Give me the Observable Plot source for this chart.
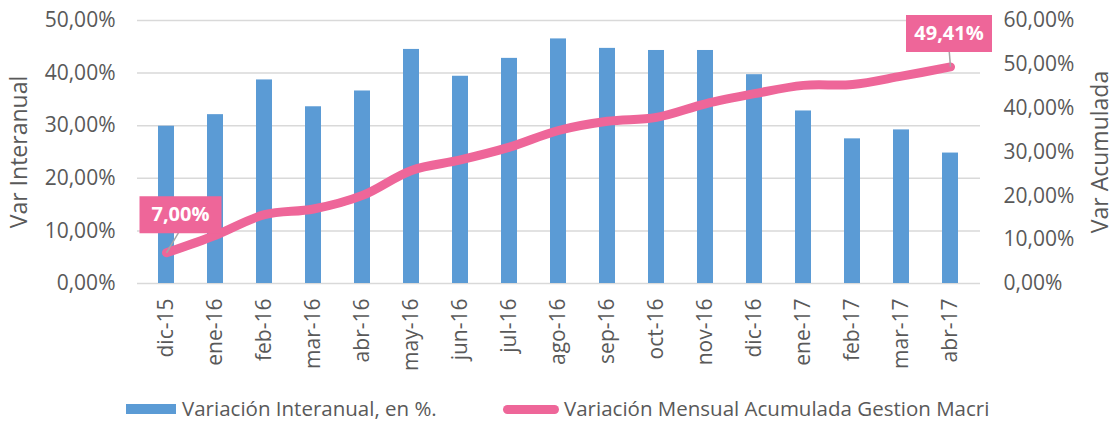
<!DOCTYPE html>
<html><head><meta charset="utf-8">
<script src="https://cdn.jsdelivr.net/npm/d3@7"></script>
<script src="https://cdn.jsdelivr.net/npm/@observablehq/plot@0.6"></script>
<style>
body{margin:0;background:#fff;font-family:"Open Sans",Lato,sans-serif;}
#wrap{position:relative;width:1114px;height:423px;}
#legend{position:absolute;top:394px;left:0;width:1114px;height:28px;font-size:20.5px;color:#595959;}
.item{position:absolute;top:0;height:28px;line-height:28px;white-space:nowrap;}
.sw{position:absolute;}
</style></head><body><div id="wrap"><div id="chart"></div><div id="legend"></div></div>
<script>
const months = ["dic-15","ene-16","feb-16","mar-16","abr-16","may-16","jun-16","jul-16","ago-16","sep-16","oct-16","nov-16","dic-16","ene-17","feb-17","mar-17","abr-17"];
const interanual = [29.9, 32.1, 38.7, 33.6, 36.6, 44.5, 39.4, 42.8, 46.5, 44.7, 44.3, 44.3, 39.7, 32.8, 27.5, 29.2, 24.8];
const acumulada = [7.00, 11.0, 15.7, 17.0, 20.1, 25.8, 28.2, 31.1, 34.9, 37.0, 37.9, 41.0, 43.3, 45.2, 45.4, 47.3, 49.41];
const leftTicks = [0, 10, 20, 30, 40, 50];
const rightTicks = [0, 10, 20, 30, 40, 50, 60];
const seriesNames = ["Variación Interanual, en %.", "Variación Mensual Acumulada Gestion Macri"];
const axisTitles = ["Var Interanual", "Var Acumulada"];
const labelIdx = [0, 16];

const fmt = v => v.toFixed(2).replace(".", ",") + "%";
const k = 50 / 60;
const data = months.map((m, i) => ({m, ia: interanual[i], ac: acumulada[i]}));
const BLUE = "#5B9BD5", PINK = "#EE6699", GRID = "#D9D9D9", TXT = "#595959";
const FONT = "'Open Sans', Lato, sans-serif";
const first = [data[labelIdx[0]]], last = [data[labelIdx[1]]];
const off = [[14, -38], [-1.5, -33.5]];
const boxSym = (w, h) => ({draw(ctx) { ctx.rect(-w / 2, -h / 2, w, h); }});
const leaderSym = (lx, ly) => ({draw(ctx) { ctx.moveTo(0, 0); ctx.lineTo(lx, ly); }});

function labelMarks(arr, o, w) {
  return [
    Plot.dot(arr, {x: "m", y: d => d.ac * k, r: 5, symbol: leaderSym(o[0] * 0.85, o[1] + 18), fill: "none", stroke: "#A6A6A6", strokeWidth: 1.5}),
    Plot.dot(arr, {x: "m", y: d => d.ac * k, r: 5, dx: o[0], dy: o[1], symbol: boxSym(w, 37), fill: PINK, stroke: "none"}),
    Plot.text(arr, {x: "m", y: d => d.ac * k, text: d => fmt(d.ac), dx: o[0], dy: o[1], fill: "#fff", fontWeight: "bold", fontSize: 20})
  ];
}

const chart = Plot.plot({
  width: 1114, height: 394,
  marginLeft: 137, marginRight: 134, marginTop: 20, marginBottom: 111,
  style: {fontFamily: FONT, fontSize: "21px", color: TXT, background: "#fff", overflow: "visible"},
  x: {domain: months, paddingInner: 0.67, paddingOuter: 0.335},
  y: {domain: [0, 50]},
  marks: [
    Plot.gridY(leftTicks, {stroke: GRID, strokeOpacity: 1, strokeWidth: 1.5}),
    Plot.barY(data, {x: "m", y: "ia", fill: BLUE}),
    Plot.line(data, {x: "m", y: d => d.ac * k, stroke: PINK, strokeWidth: 9, curve: "catmull-rom", strokeLinecap: "round", strokeLinejoin: "round"}),
    Plot.axisY(leftTicks, {anchor: "left", tickSize: 0, tickPadding: 22, tickFormat: fmt, label: null, fontSize: 21, fill: TXT}),
    Plot.axisY(rightTicks.map(t => t * k), {anchor: "right", tickSize: 0, tickPadding: 23, tickFormat: d => fmt(Math.round(d / k)), label: null, fontSize: 21, fill: TXT}),
    Plot.axisX({tickSize: 0, tickPadding: 15, tickRotate: -90, label: null, fontSize: 21, fill: TXT}),
    Plot.text([axisTitles[0]], {frameAnchor: "left", rotate: -90, dx: -118, textAnchor: "middle", fontSize: 23, fill: TXT}),
    Plot.text([axisTitles[1]], {frameAnchor: "right", rotate: -90, dx: 120, textAnchor: "middle", fontSize: 23, fill: TXT}),
    ...labelMarks(first, off[0], 82),
    ...labelMarks(last, off[1], 86)
  ]
});
document.getElementById("chart").appendChild(chart);

// legend
const lg = document.getElementById("legend");
lg.innerHTML =
  `<div class="sw" style="left:126px;top:10px;width:50px;height:10px;background:${BLUE}"></div>` +
  `<div class="item" style="left:182px">${seriesNames[0]}</div>` +
  `<div class="sw" style="left:503px;top:10.5px;width:56px;height:9px;border-radius:5px;background:${PINK}"></div>` +
  `<div class="item" style="left:564px">${seriesNames[1]}</div>`;
</script>
</body></html>
